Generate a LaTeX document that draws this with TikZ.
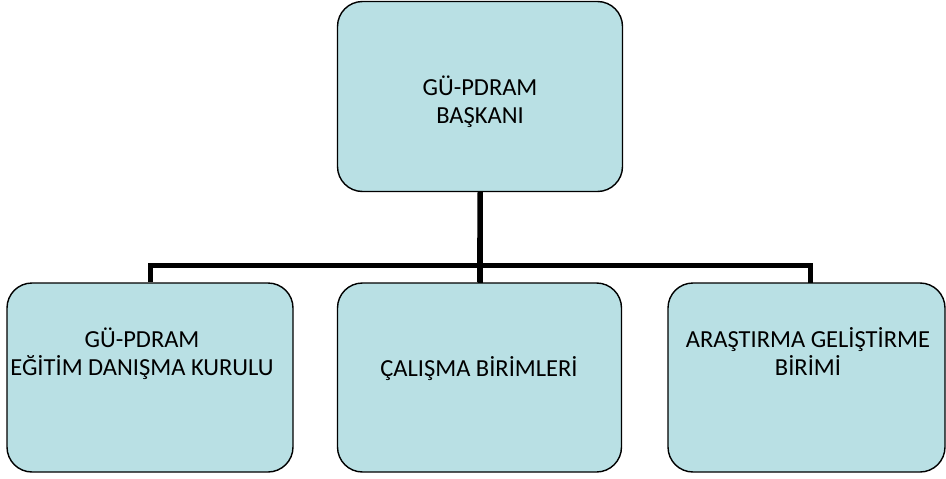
\documentclass[tikz,border=0pt]{standalone}
\usepackage{fontspec}
\setmainfont{Carlito}
\definecolor{boxfill}{RGB}{185,224,228}
\begin{document}
\begin{tikzpicture}[x=1pt,y=-1pt,
  orgbox/.style={draw=black,line width=1.4pt,fill=boxfill,rounded corners=25pt,inner sep=0pt},
  boxtext/.style={font=\fontsize{24.5}{27.5}\selectfont,align=center,inner sep=0pt,anchor=base},
  conn/.style={line width=5pt}]
\useasboundingbox (0,0) rectangle (946,479);
\draw[conn] (480,190) -- (480,285);
\node[orgbox,minimum width=285pt,minimum height=190pt] (top) at (480,96.5) {};
\node[orgbox,minimum width=286pt,minimum height=189pt] (left) at (150,377.5) {};
\node[orgbox,minimum width=284pt,minimum height=189pt] (mid) at (479.5,377.5) {};
\node[orgbox,minimum width=277pt,minimum height=189pt] (right) at (806.5,377.5) {};
\coordinate (bus) at (480,265);
\coordinate (rj) at (810,283);
\draw[conn] (left.north) |- (bus);
\draw[conn] (rj) |- (bus);
\draw[conn] (top.south) -- (mid.north);
\node[boxtext] (toptext) at (480,123) {GÜ-PDRAM\\BAŞKANI};
\node[boxtext] (lefttext) at (142,375) {GÜ-PDRAM\\EĞİTİM DANIŞMA KURULU};
\node[boxtext] (midtext) at (479,376) {ÇALIŞMA BİRİMLERİ};
\node[boxtext] (righttext) at (808,375) {ARAŞTIRMA GELİŞTİRME\\BİRİMİ};
\end{tikzpicture}
\end{document}
